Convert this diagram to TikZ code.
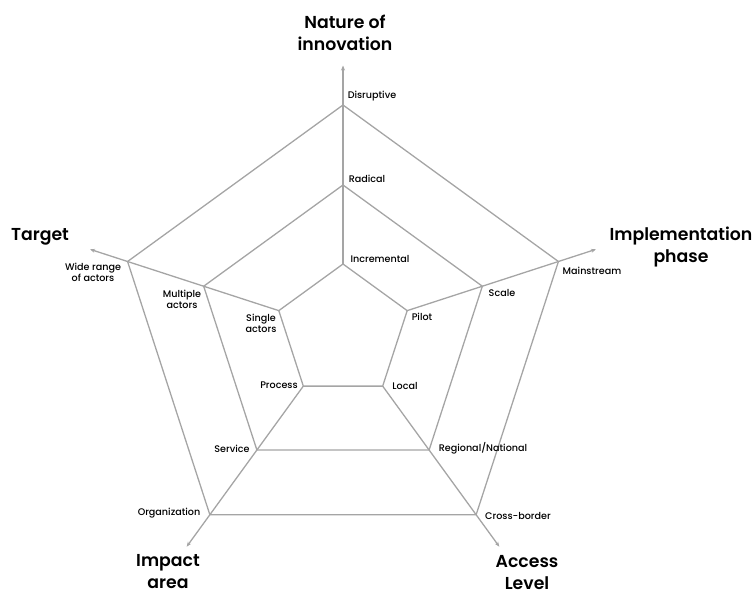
\documentclass[tikz,border=0pt]{standalone}
\usepackage{fontspec}
\setmainfont{Poppins}
\newfontfamily\pmed{Poppins Medium}
\newfontfamily\psemi{Poppins SemiBold}
\usetikzlibrary{calc,arrows.meta}
\definecolor{linegray}{RGB}{165,165,165}
\tikzset{
  web/.style={draw=linegray, line width=1.3pt, line join=miter},
  spoke/.style={draw=linegray, line width=1.3pt, -{Stealth[length=5pt,width=4pt]}},
  lbl/.style={font=\pmed\fontsize{9.6}{11}\selectfont, text=black, inner sep=0pt, align=center},
  ttl/.style={font=\psemi\fontsize{17.3}{22}\selectfont, text=black, inner sep=0pt, align=center}
}
\begin{document}
\begin{tikzpicture}[x=1pt,y=-1pt]
\useasboundingbox (0,0) rectangle (755,596);
\coordinate (C) at (343,331.5);
\foreach \i/\a in {1/-90,2/-18,3/54,4/126,5/198}{
  \coordinate (I\i) at ($(C)+(\a:67.5)$);
  \coordinate (M\i) at ($(C)+(\a:146.5)$);
  \coordinate (O\i) at ($(C)+(\a:226.5)$);
  \coordinate (T\i) at ($(C)+(\a:266)$);
}
% pentagons
\draw[web] (I1) -- (I2) -- (I3) -- (I4) -- (I5) -- cycle;
\draw[web] (M1) -- (M2) -- (M3) -- (M4) -- (M5) -- cycle;
\draw[web] (O1) -- (O2) -- (O3) -- (O4) -- (O5) -- cycle;
% spokes
\foreach \i in {1,...,5}{
  \draw[spoke] (I\i) -- (T\i);
}
% titles
\node[ttl] (tNat) at (345,33) {Nature of\\innovation};
\node[ttl] (tTar) at (40,237) {Target};
\node[ttl] (tImp) at (681,247) {Implementation\\phase};
\node[ttl] (tImA) at (168,572) {Impact\\area};
\node[ttl] (tAcc) at (527,573) {Access\\Level};
% level labels
\node[lbl] (lDis) at (372,96) {Disruptive};
\node[lbl] (lRad) at (367,179) {Radical};
\node[lbl] (lInc) at (380,259) {Incremental};
\node[lbl] (lWid) at (93,272) {Wide range\\of actors};
\node[lbl] (lMul) at (182,299) {Multiple\\actors};
\node[lbl] (lSin) at (261,323) {Single\\actors};
\node[lbl] (lMai) at (592,271) {Mainstream};
\node[lbl] (lSca) at (502,293) {Scale};
\node[lbl] (lPil) at (422,317) {Pilot};
\node[lbl] (lPro) at (279,385) {Process};
\node[lbl] (lLoc) at (405,386) {Local};
\node[lbl] (lSer) at (232,449) {Service};
\node[lbl] (lReg) at (483,448) {Regional/National};
\node[lbl] (lOrg) at (169,513) {Organization};
\node[lbl] (lCro) at (518,516) {Cross-border};
\end{tikzpicture}
\end{document}
